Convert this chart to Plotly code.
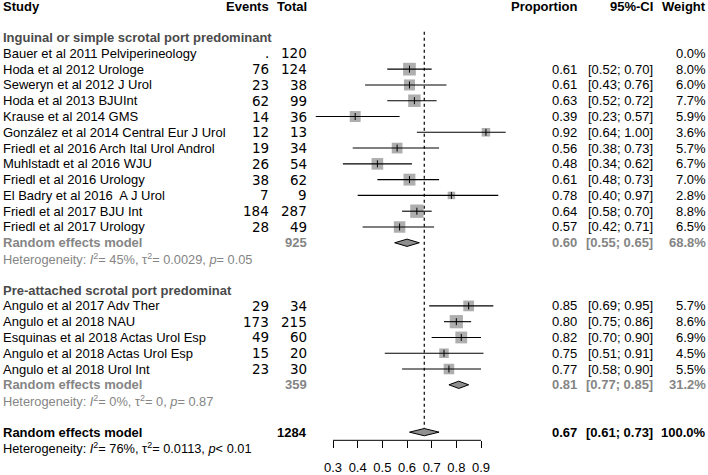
import math
import plotly.graph_objects as go

# ---------------- data ----------------
group_names = ["Inguinal or simple scrotal port predominant",
               "Pre-attached scrotal port predominat"]

g1_studies = ["Bauer et al 2011 Pelviperineology", "Hoda et al 2012 Urologe",
              "Seweryn et al 2012 J Urol", "Hoda et al 2013 BJUInt",
              "Krause et al 2014 GMS", "González et al 2014 Central Eur J Urol",
              "Friedl et al 2016 Arch Ital Urol Androl", "Muhlstadt et al 2016 WJU",
              "Friedl et al 2016 Urology", "El Badry et al 2016  A J Urol",
              "Friedl et al 2017 BJU Int", "Friedl et al 2017 Urology"]
g1_events = [None, 76, 23, 62, 14, 12, 19, 26, 38, 7, 184, 28]
g1_totals = [120, 124, 38, 99, 36, 13, 34, 54, 62, 9, 287, 49]
g1_prop = [None, 0.61, 0.61, 0.63, 0.39, 0.92, 0.56, 0.48, 0.61, 0.78, 0.64, 0.57]
g1_lo = [None, 0.52, 0.43, 0.52, 0.23, 0.64, 0.38, 0.34, 0.48, 0.40, 0.58, 0.42]
g1_hi = [None, 0.70, 0.76, 0.72, 0.57, 1.00, 0.73, 0.62, 0.73, 0.97, 0.70, 0.71]
g1_weight = [0.0, 8.0, 6.0, 7.7, 5.9, 3.6, 5.7, 6.7, 7.0, 2.8, 8.8, 6.5]
g1_summary = [925, 0.60, 0.55, 0.65, 68.8]          # total, est, lo, hi, weight
g1_het = ["45%", "0.0029", "= 0.05"]                 # I2, tau2, p

g2_studies = ["Angulo et al 2017 Adv Ther", "Angulo et al 2018 NAU",
              "Esquinas et al 2018 Actas Urol Esp", "Angulo et al 2018 Actas Urol Esp",
              "Angulo et al 2018 Urol Int"]
g2_events = [29, 173, 49, 15, 23]
g2_totals = [34, 215, 60, 20, 30]
g2_prop = [0.85, 0.80, 0.82, 0.75, 0.77]
g2_lo = [0.69, 0.75, 0.70, 0.51, 0.58]
g2_hi = [0.95, 0.86, 0.90, 0.91, 0.90]
g2_weight = [5.7, 8.6, 6.9, 4.5, 5.5]
g2_summary = [359, 0.81, 0.77, 0.85, 31.2]
g2_het = ["0%", "0", "= 0.87"]

overall_summary = [1284, 0.67, 0.61, 0.73, 100.0]
overall_het = ["76%", "0.0113", "< 0.01"]

axis_ticks = [0.3, 0.4, 0.5, 0.6, 0.7, 0.8, 0.9]

# ---------------- layout geometry ----------------
W, H = 708, 475
PX_A, VAL_A = 333.0, 0.3          # pixel of value 0.3
PX_PER_UNIT = 246.67
ROW0, ROWH = 6.1, 15.95           # pixel of row 0, row height
AXIS_PX = 445.0

def xval(px):
    return VAL_A + (px - PX_A) / PX_PER_UNIT

def xp(px):
    return px / W

FONT = "Arial, Liberation Sans, Helvetica, sans-serif"
NUM_FONT = "DejaVu Sans, Verdana, sans-serif"
GRAY_SQ = "#8c8c8c"
GRAY_TXT = "#858585"
HEAD_TXT = "#4a4a4a"

fig = go.Figure()
ann = []

def text(px, row, s, anchor="left", color="black", size=13, bold=False, family=FONT):
    if bold:
        s = "<b>" + s + "</b>"
    ann.append(dict(x=xp(px), xref="paper", y=row, yref="y", text=s,
                    showarrow=False, xanchor=anchor, yanchor="middle",
                    font=dict(family=family, size=size, color=color)))

COL_STUDY, COL_EV, COL_TOT = 1, 271, 309
COL_PROP, COL_CI, COL_W = 579, 655, 708

# header
text(COL_STUDY, 0, "Study", bold=True)
text(COL_EV, 0, "Events", "right", bold=True)
text(COL_TOT, 0, "Total", "right", bold=True)
text(COL_PROP, 0, "Proportion", "right", bold=True)
text(COL_CI, 0, "95%-CI", "right", bold=True)
text(COL_W, 0, "Weight", "right", bold=True)

def het_str(h):
    return ("Heterogeneity: <i>I</i><sup>2</sup>= %s, τ<sup>2</sup>= %s, <i>p</i>%s"
            % (h[0], h[1], h[2]))

def diamond(row, est, lo, hi, half=0.23):
    fig.add_trace(go.Scatter(
        x=[lo, est, hi, est, lo], y=[row, row - half, row, row + half, row],
        mode="lines", fill="toself", fillcolor="#8f8f8f",
        line=dict(color="black", width=1), hoverinfo="skip", showlegend=False))

def group(start_row, name, studies, events, totals, prop, lo, hi, weight, summ, het):
    r = start_row
    text(COL_STUDY, r, name, color=HEAD_TXT, bold=True)
    r += 1
    rows = []
    for i, s in enumerate(studies):
        text(COL_STUDY, r, s)
        text(COL_EV, r, "." if events[i] is None else str(events[i]), "right",
             size=13.5, family=NUM_FONT)
        text(COL_TOT, r, str(totals[i]), "right", size=13.5, family=NUM_FONT)
        if prop[i] is not None:
            text(COL_PROP, r, "%.2f" % prop[i], "right")
            text(COL_CI, r, "[%.2f; %.2f]" % (lo[i], hi[i]), "right")
        text(COL_W, r, "%.1f%%" % weight[i], "right")
        rows.append(r)
        r += 1
    # study squares & CIs
    xs, ys, sx, sy, ss = [], [], [], [], []
    for i, rr in enumerate(rows):
        if prop[i] is None:
            continue
        xs += [lo[i], hi[i], None]
        ys += [rr, rr, None]
        sx.append(prop[i]); sy.append(rr); ss.append(4.5 * math.sqrt(weight[i]))
    fig.add_trace(go.Scatter(x=sx, y=sy, mode="markers",
                             marker=dict(symbol="square", size=ss, color=GRAY_SQ,
                                         line=dict(width=0)),
                             hoverinfo="skip", showlegend=False))
    fig.add_trace(go.Scatter(x=xs, y=ys, mode="lines",
                             line=dict(color="black", width=1.1),
                             hoverinfo="skip", showlegend=False))
    fig.add_trace(go.Scatter(x=sx, y=sy, mode="markers",
                             marker=dict(symbol="line-ns", size=5,
                                         line=dict(color="black", width=1)),
                             hoverinfo="skip", showlegend=False))
    # summary
    text(COL_STUDY, r, "Random effects model", color=GRAY_TXT, bold=True)
    text(COL_TOT, r, str(summ[0]), "right", color=GRAY_TXT, bold=True)
    text(COL_PROP, r, "%.2f" % summ[1], "right", color=GRAY_TXT, bold=True)
    text(COL_CI, r, "[%.2f; %.2f]" % (summ[2], summ[3]), "right", color=GRAY_TXT, bold=True)
    text(COL_W, r, "%.1f%%" % summ[4], "right", color=GRAY_TXT, bold=True)
    diamond(r, summ[1], summ[2], summ[3])
    r += 1
    text(COL_STUDY, r, het_str(het), color=GRAY_TXT, size=12.8)
    r += 1
    return r

r = 2
r = group(r, group_names[0], g1_studies, g1_events, g1_totals, g1_prop, g1_lo,
          g1_hi, g1_weight, g1_summary, g1_het)
r += 1
r = group(r, group_names[1], g2_studies, g2_events, g2_totals, g2_prop, g2_lo,
          g2_hi, g2_weight, g2_summary, g2_het)
r += 1
text(COL_STUDY, r, "Random effects model", bold=True)
text(COL_TOT, r, str(overall_summary[0]), "right", bold=True)
text(COL_PROP, r, "%.2f" % overall_summary[1], "right", bold=True)
text(COL_CI, r, "[%.2f; %.2f]" % (overall_summary[2], overall_summary[3]), "right", bold=True)
text(COL_W, r, "%.1f%%" % overall_summary[4], "right", bold=True)
diamond(r, overall_summary[1], overall_summary[2], overall_summary[3])
overall_row = r
r += 1
text(COL_STUDY, r, het_str(overall_het), size=12.8)

# dotted reference line at overall estimate
shapes = [
    dict(type="line", xref="x", yref="y", x0=overall_summary[1], x1=overall_summary[1],
         y0=(32 - ROW0) / ROWH, y1=overall_row - 0.23,
         line=dict(color="black", width=1.2, dash="dot")),
    dict(type="line", xref="x", yref="paper", x0=axis_ticks[0], x1=axis_ticks[-1],
         y0=(H - AXIS_PX) / H, y1=(H - AXIS_PX) / H,
         line=dict(color="black", width=1)),
]

fig.update_layout(
    width=W, height=H, margin=dict(l=0, r=0, t=0, b=0),
    paper_bgcolor="white", plot_bgcolor="white",
    annotations=ann, shapes=shapes, showlegend=False,
    font=dict(family=FONT, color="black"),
    xaxis=dict(domain=[0, 1], range=[xval(0), xval(W)], anchor="free",
               position=(H - AXIS_PX) / H, showgrid=False, zeroline=False,
               showline=False, tickmode="array", tickvals=axis_ticks,
               ticktext=["%.1f" % t for t in axis_ticks], ticks="outside",
               ticklen=7, tickwidth=1, tickcolor="black", ticklabelstandoff=8,
               tickfont=dict(family=FONT, size=13, color="black"), fixedrange=True),
    yaxis=dict(domain=[0, 1], range=[(H - ROW0) / ROWH, -ROW0 / ROWH],
               visible=False, fixedrange=True),
)

fig.write_html("out.html", config={"displayModeBar": False},
               post_script="document.body.style.margin='0';document.body.style.overflow='hidden';")
